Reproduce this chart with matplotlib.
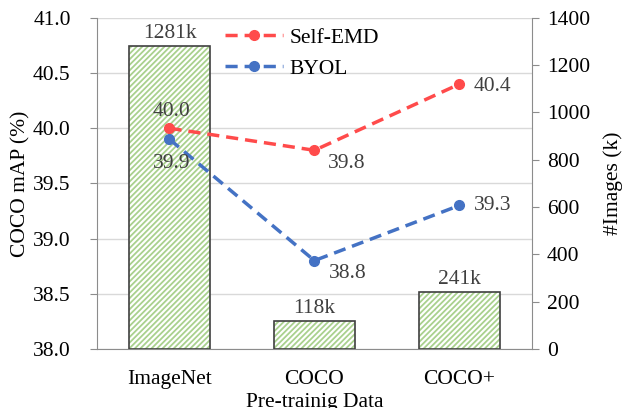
import numpy as np
import matplotlib.pyplot as plt

plt.rcParams['font.family'] = ['Liberation Serif', 'DejaVu Serif']
plt.rcParams['hatch.linewidth'] = 1.3

datasets = ['ImageNet', 'COCO', 'COCO+']
n_images = [1281, 118, 241]
image_labels = ['1281k', '118k', '241k']
self_emd = [40.0, 39.8, 40.4]
byol = [39.9, 38.8, 39.3]

red = '#FF4B4B'
blue = '#4472C4'
green = '#A9D18E'
gray = '#404040'
spine = '#8C8C8C'
fs = 15.5

x = np.arange(len(datasets))

fig = plt.figure(figsize=(6.22, 4.08), dpi=100)
rect = [0.156, 0.145, 0.699, 0.811]

# bottom axes: mAP scale, grid only
ax = fig.add_axes(rect)
ax.set_ylim(38.0, 41.0)
ax.set_yticks(np.arange(38.0, 41.01, 0.5))
ax.set_yticklabels(['%.1f' % v for v in np.arange(38.0, 41.01, 0.5)])
ax.grid(axis='y', color='#D9D9D9', linewidth=1)
ax.set_axisbelow(True)
ax.set_xlim(-0.5, 2.5)
ax.set_xticks(x)
ax.set_xticklabels(datasets)
ax.set_ylabel('COCO mAP (%)', fontsize=fs, labelpad=2)
ax.set_xlabel('Pre-trainig Data', fontsize=fs, labelpad=3)
ax.tick_params(axis='x', labelsize=fs, length=0, pad=15)
ax.tick_params(axis='y', labelsize=fs, length=5, color=spine, pad=14)
ax.spines['top'].set_visible(False)
for s in ['left', 'right', 'bottom']:
    ax.spines[s].set_color(spine)

# bars: images scale on right
ax2 = ax.twinx()
ax2.set_ylim(0, 1400)
ax2.set_yticks(np.arange(0, 1401, 200))
ax2.set_ylabel('#Images (k)', fontsize=fs, labelpad=9)
ax2.tick_params(labelsize=fs, length=5, color=spine, pad=6)
for s in ax2.spines.values():
    s.set_visible(False)
ax2.bar(x, n_images, width=0.56, color='white', edgecolor=green, hatch='//////', linewidth=0)
ax2.bar(x, n_images, width=0.56, fill=False, edgecolor=gray, linewidth=1.2)
for xi, v, lab in zip(x, n_images, image_labels):
    ax2.annotate(lab, (xi, v), xytext=(0, 8), textcoords='offset pixels',
                 ha='center', va='baseline', fontsize=fs, color=gray)

# lines on top
ax3 = fig.add_axes(rect, sharex=ax, sharey=ax)
ax3.patch.set_visible(False)
ax3.axis('off')
ax3.plot(x, self_emd, color=red, linestyle=(0, (3.5, 2)), linewidth=2.5,
         marker='o', markersize=7, label='Self-EMD')
ax3.plot(x, byol, color=blue, linestyle=(0, (3.5, 2)), linewidth=2.5,
         marker='o', markersize=7, label='BYOL')

offsets_emd = [(2, 17), (32, -13), (33, -2)]
offsets_byol = [(2, -24), (33, -13), (33, 0)]
for xi, v, off in zip(x, self_emd, offsets_emd):
    ax3.annotate('%.1f' % v, (xi, v), xytext=off, textcoords='offset pixels',
                 ha='center', va='center', fontsize=fs, color=gray)
for xi, v, off in zip(x, byol, offsets_byol):
    ax3.annotate('%.1f' % v, (xi, v), xytext=off, textcoords='offset pixels',
                 ha='center', va='center', fontsize=fs, color=gray)

ax3.legend(loc='upper left', bbox_to_anchor=(0.295, 0.97), frameon=False,
           fontsize=fs, handlelength=2.7, handletextpad=0.3, labelspacing=0.5,
           borderpad=0, borderaxespad=0)

fig.savefig('out.png', dpi=100)
